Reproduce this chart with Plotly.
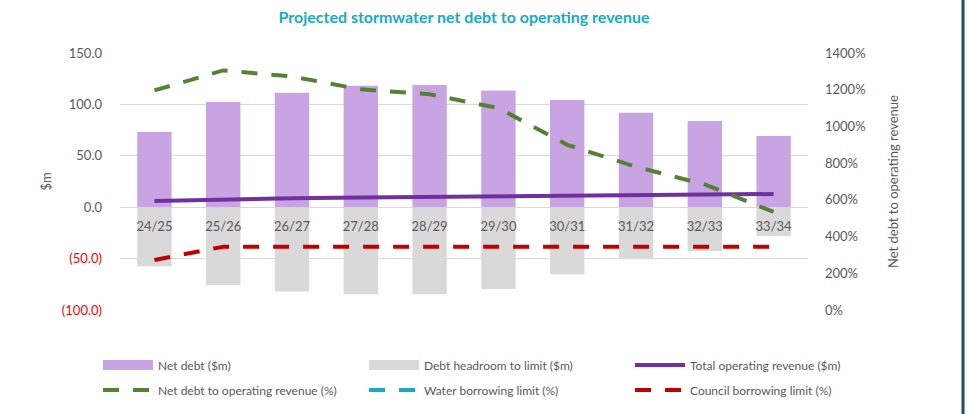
import plotly.graph_objects as go

categories = ["24/25", "25/26", "26/27", "27/28", "28/29", "29/30", "30/31", "31/32", "32/33", "33/34"]
net_debt = [73.1, 102.3, 111.4, 118.2, 118.9, 113.4, 104.3, 91.9, 83.8, 69.2]
debt_headroom = [-57.5, -76.0, -81.9, -84.8, -84.8, -79.6, -65.3, -50.7, -42.6, -28.0]
operating_revenue = [6.0, 7.6, 8.6, 9.5, 9.9, 10.3, 11.3, 11.8, 12.3, 12.8]
net_debt_ratio = [1196, 1305, 1272, 1202, 1175, 1100, 900, 780, 684, 534]
water_limit = [None] * 10
council_limit = [272, 345, 345, 345, 345, 345, 345, 345, 345, 345]

left_tickvals = [150, 100, 50, 0, -50, -100]
left_ticktext = ["150.0", "100.0", "50.0", "0.0",
                 '<span style="color:#FF0000">(50.0)</span>',
                 '<span style="color:#FF0000">(100.0)</span>']
right_tickvals = [0, 200, 400, 600, 800, 1000, 1200, 1400]
right_ticktext = ["0%", "200%", "400%", "600%", "800%", "1000%", "1200%", "1400%"]

FONT = "Lato, 'Open Sans', sans-serif"
GREY = "#595959"
PURPLE_BAR = "#C8A5E2"
GREY_BAR = "#D9D9D9"

fig = go.Figure()
fig.add_trace(go.Bar(x=categories, y=net_debt, name="Net debt ($m)", showlegend=False,
                     marker=dict(color=PURPLE_BAR, line=dict(width=0))))
fig.add_trace(go.Bar(x=categories, y=debt_headroom, name="Debt headroom to limit ($m)",
                     showlegend=False, marker=dict(color=GREY_BAR, line=dict(width=0))))
# legend swatches for the bars (wide rectangles as in the original)
fig.add_trace(go.Scatter(x=[None], y=[None], name="Net debt ($m)", mode="lines",
                         line=dict(color=PURPLE_BAR, width=10), legend="legend"))
fig.add_trace(go.Scatter(x=[None], y=[None], name="Debt headroom to limit ($m)", mode="lines",
                         line=dict(color=GREY_BAR, width=10), legend="legend"))
fig.add_trace(go.Scatter(x=categories, y=operating_revenue, name="Total operating revenue ($m)",
                         mode="lines", line=dict(color="#7030A0", width=4), legend="legend"))
fig.add_trace(go.Scatter(x=categories, y=net_debt_ratio, name="Net debt to operating revenue (%)",
                         mode="lines", yaxis="y2", legend="legend2",
                         line=dict(color="#548235", width=4, dash="16px,14px")))
fig.add_trace(go.Scatter(x=categories, y=water_limit, name="Water borrowing limit (%)",
                         mode="lines", yaxis="y2", legend="legend2",
                         line=dict(color="#17A9C6", width=4, dash="16px,14px")))
fig.add_trace(go.Scatter(x=categories, y=council_limit, name="Council borrowing limit (%)",
                         mode="lines", yaxis="y2", legend="legend2",
                         line=dict(color="#C00000", width=4, dash="16px,14px")))

legend_common = dict(orientation="h", xref="paper", yref="paper",
                     x=-0.032, xanchor="left", yanchor="middle",
                     traceorder="normal", entrywidth=201, entrywidthmode="pixels",
                     itemwidth=50, font=dict(size=12, color=GREY),
                     bgcolor="rgba(0,0,0,0)", borderwidth=0)

fig.update_layout(
    width=967, height=414,
    margin=dict(l=120, r=159, t=53, b=104, autoexpand=False),
    paper_bgcolor="white", plot_bgcolor="white",
    font=dict(family=FONT, color=GREY, size=13),
    barmode="relative", bargap=0.5,
    title=dict(text="<b>Projected stormwater net debt to operating revenue</b>",
               x=0.5, xref="paper", xanchor="center", y=0.957, yanchor="middle",
               font=dict(family=FONT, size=16, color="#1AA9C6")),
    xaxis=dict(type="category", anchor="free", position=0.4,
               showline=False, showgrid=False, ticks="",
               ticklabelstandoff=10,
               tickfont=dict(size=13, color=GREY)),
    yaxis=dict(range=[-100, 150], tickvals=left_tickvals, ticktext=left_ticktext,
               showgrid=True, gridcolor="#D9D9D9", gridwidth=1,
               zeroline=True, zerolinecolor="#D9D9D9", zerolinewidth=1,
               showline=False, ticks="", ticklabelstandoff=17,
               title=dict(text="$m", standoff=7, font=dict(size=13, color=GREY)),
               tickfont=dict(size=13, color=GREY)),
    yaxis2=dict(range=[0, 1400], overlaying="y", side="right",
                tickvals=right_tickvals, ticktext=right_ticktext,
                showgrid=False, zeroline=False, showline=False, ticks="",
                ticklabelstandoff=16,
                title=dict(text="Net debt to operating revenue", standoff=24,
                           font=dict(size=13, color=GREY)),
                tickfont=dict(size=13, color=GREY)),
    legend=dict(legend_common, y=(310 - 365) / 257),
    legend2=dict(legend_common, y=(310 - 390) / 257),
    showlegend=True,
)

# right-hand frame border of the original image
fig.add_shape(type="line", xref="paper", yref="paper",
              x0=1.2253, x1=1.2253, y0=-0.41, y1=1.21,
              line=dict(color="#1F4E5F", width=3))

fig.write_html("out.html", config={"displayModeBar": False},
               post_script="document.body.style.margin='0';")
